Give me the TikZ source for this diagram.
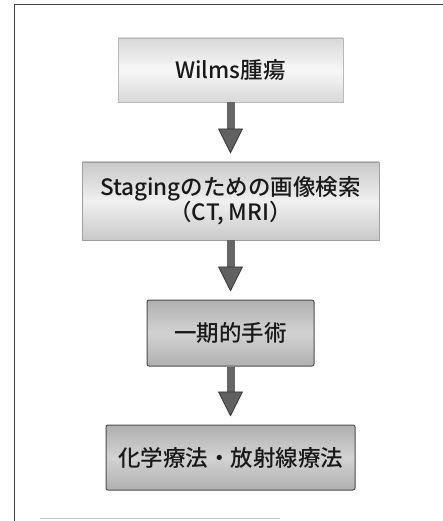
\documentclass[tikz,border=0pt]{standalone}
\usepackage{fontspec}
\setmainfont{Noto Sans CJK JP}[BoldFont={Noto Sans CJK JP Medium}]
\usetikzlibrary{arrows.meta}
\begin{document}
\begin{tikzpicture}[x=1pt,y=-1pt,
  box/.style={rectangle, inner sep=0pt, align=center, font=\fontsize{22.5}{25}\selectfont\bfseries, text=black!90},
  lightbox/.style={box, draw=gray!55, line width=0.8pt, top color=gray!30, bottom color=gray!30, middle color=gray!6},
  midbox/.style={box, draw=gray!75, line width=0.9pt, top color=gray!42, bottom color=gray!42, middle color=gray!12},
  darkbox/.style={box, draw=black!70, line width=1pt, rounded corners=2pt, top color=gray!62, bottom color=gray!62, middle color=gray!35},
  flowarrow/.style={draw=black!60, line width=8pt, shorten >=8pt,
    -{Triangle[width=25pt,length=25pt,color=black!80,fill=black!62,line width=0.8pt]}}
]
\useasboundingbox (0,0) rectangle (443,521);
% outer frame
\draw[black!75, line width=1pt] (443,5) -- (14,5) -- (14,521);
\draw[gray!45, line width=1pt] (40,518) -- (280,518);
% boxes
\node[lightbox, minimum width=225pt, minimum height=64pt] (w) at (230.5,70) {Wilms腫瘍};
\node[midbox, minimum width=297pt, minimum height=78pt] (s) at (230.5,201) {Stagingのための画像検索\\（CT, MRI）};
\node[darkbox, minimum width=167pt, minimum height=66pt] (o) at (230.5,333) {一期的手術};
\node[darkbox, minimum width=249pt, minimum height=65pt] (c) at (230.5,457.5) {化学療法・放射線療法};
% arrows
\draw[flowarrow] (w.south) -- (s.north);
\draw[flowarrow] (s.south) -- (o.north);
\draw[flowarrow] (o.south) -- (c.north);
\end{tikzpicture}
\end{document}
